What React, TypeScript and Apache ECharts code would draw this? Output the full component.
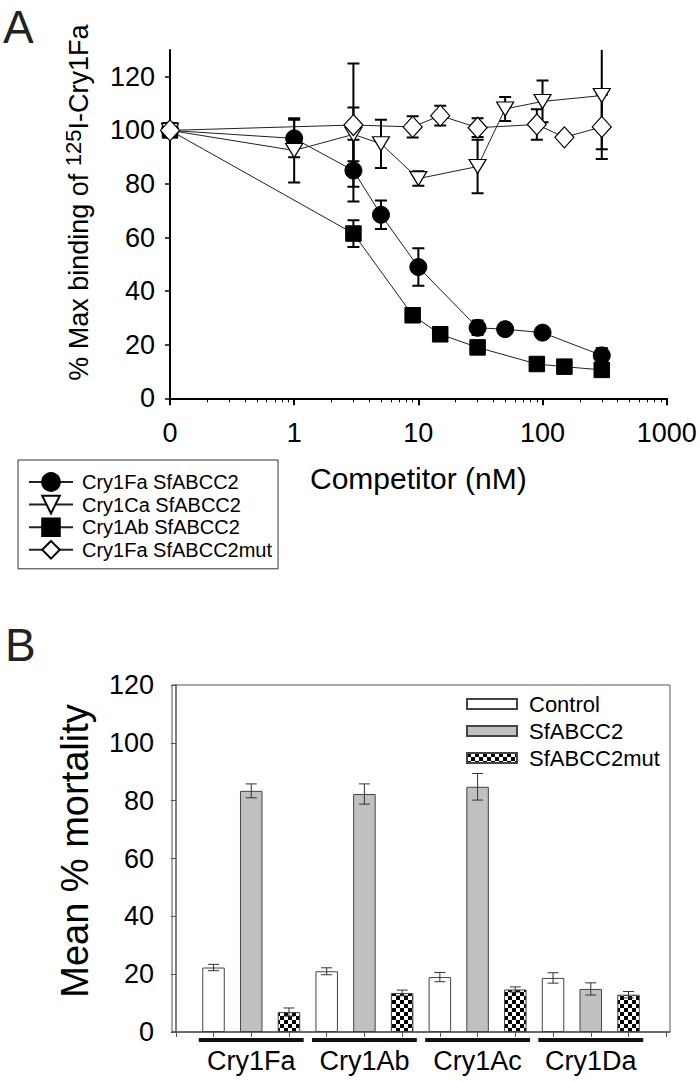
import React, { useEffect, useRef } from "react";
import * as echarts from "echarts";

const FONT = "Liberation Sans, Arial, Helvetica, sans-serif";

// ---- Panel A data (competitor concentration in nM; 0 is drawn at the left end of the log axis)
const concFa = [0, 1, 3, 5, 10, 30, 50, 100, 300];
const fa = [100, 97, 85, 68.5, 49, 26.3, 25.8, 24.5, 16];
const faErr = [0, 7, 11.5, 5.3, 7, 2.7, 0, 0, 2.8];

const concCa = [0, 1, 3, 5, 10, 30, 50, 100, 300];
const ca = [100, 92.5, 98.5, 95, 82, 86.5, 108, 110.8, 113];
const caErr = [0, 12, 10, 9, 2.7, 10, 4.5, 7.8, 20];

const concAb = [0, 3, 9, 15, 30, 90, 150, 300];
const ab = [100, 61.5, 31, 23.9, 19, 12.8, 11.8, 10.6];
const abErr = [0, 5, 0, 0, 0, 0, 0, 0];

const concMut = [0, 3, 9, 15, 30, 90, 150, 300];
const mut = [100, 102, 101.3, 105.5, 101, 102.2, 97.4, 101.3];
const mutErr = [0, 23, 4, 3.7, 3.5, 5.7, 1.5, 12];

const xMajorTicks = [0.1, 1, 10, 100, 1000];
const xMinorTicks = [
  0.2, 0.3, 0.4, 0.5, 0.6, 0.7, 0.8, 0.9,
  2, 3, 4, 5, 6, 7, 8, 9,
  20, 30, 40, 50, 60, 70, 80, 90,
  200, 300, 400, 500, 600, 700, 800, 900,
];
const yTicksA = [0, 20, 40, 60, 80, 100, 120];

// ---- Panel B data
const categories = ["Cry1Fa", "Cry1Ab", "Cry1Ac", "Cry1Da"];
const treatments = ["Control", "SfABCC2", "SfABCC2mut"];
const control = [22.3, 21.0, 19.0, 18.7];
const controlErr = [1.1, 1.2, 1.6, 1.8];
const sfabcc2 = [83.4, 82.3, 84.8, 14.9];
const sfabcc2Err = [2.4, 3.5, 4.6, 2.1];
const sfmut = [6.9, 13.5, 14.7, 12.9];
const sfmutErr = [1.4, 1.0, 0.9, 1.1];

const toPlot = (c: number) => (c === 0 ? 0.1 : c);

export default function App() {
  const ref = useRef<HTMLDivElement>(null);

  useEffect(() => {
    if (!ref.current) return;
    const chart = echarts.init(ref.current, null, { renderer: "svg" });

    const cv = document.createElement("canvas");
    cv.width = 8;
    cv.height = 8;
    const ctx = cv.getContext("2d")!;
    ctx.fillStyle = "#fff";
    ctx.fillRect(0, 0, 8, 8);
    ctx.fillStyle = "#000";
    ctx.fillRect(0, 0, 4, 4);
    ctx.fillRect(4, 4, 4, 4);
    const checker: any = { image: cv, repeat: "repeat", imageWidth: 8, imageHeight: 8 };

    const errA: number[][] = [];
    const pushErr = (conc: number[], v: number[], e: number[]) =>
      conc.forEach((c, i) => {
        if (e[i] > 0) errA.push([toPlot(c), v[i], e[i]]);
      });
    pushErr(concAb, ab, abErr);
    pushErr(concFa, fa, faErr);
    pushErr(concCa, ca, caErr);
    pushErr(concMut, mut, mutErr);

    const groupValues = [control, sfabcc2, sfmut];
    const groupErrs = [controlErr, sfabcc2Err, sfmutErr];
    const errB: number[][] = [];
    categories.forEach((_, gi) => {
      groupValues.forEach((vals, si) => {
        errB.push([gi * 3 + si + 1, vals[gi], groupErrs[si][gi]]);
      });
    });

    const errRender = (w: number, lw: number, color: string) => (params: any, api: any) => {
      const x = api.value(0);
      const y = api.value(1);
      const e = api.value(2);
      const top = api.coord([x, y + e]);
      const bot = api.coord([x, y - e]);
      const style = { stroke: color, lineWidth: lw };
      return {
        type: "group",
        children: [
          { type: "line", shape: { x1: top[0], y1: top[1], x2: bot[0], y2: bot[1] }, style },
          { type: "line", shape: { x1: top[0] - w, y1: top[1], x2: top[0] + w, y2: top[1] }, style },
          { type: "line", shape: { x1: bot[0] - w, y1: bot[1], x2: bot[0] + w, y2: bot[1] }, style },
        ],
      };
    };

    const lineStyleA = { color: "#222", width: 1 };

    const option: any = {
      animation: false,
      backgroundColor: "#fff",
      textStyle: { fontFamily: FONT },
      graphic: [
        { type: "text", left: 3, top: 4, style: { text: "A", fontSize: 46, fontFamily: FONT, fill: "#222" } },
        { type: "text", left: 5, top: 622, style: { text: "B", fontSize: 46, fontFamily: FONT, fill: "#222" } },
      ],
      grid: [
        { left: 170, top: 50, width: 496.7, height: 348.3, containLabel: false },
        {
          left: 172, top: 685, width: 498, height: 347, containLabel: false,
          show: true, borderColor: "#555", borderWidth: 1, backgroundColor: "transparent",
        },
      ],
      legend: [
        {
          data: ["Cry1Fa SfABCC2", "Cry1Ca SfABCC2", "Cry1Ab SfABCC2", "Cry1Fa SfABCC2mut"],
          orient: "vertical",
          left: 18,
          top: 460,
          padding: [12, 6, 9, 10],
          borderColor: "#333",
          borderWidth: 1,
          itemWidth: 44,
          itemHeight: 22,
          itemGap: 2.6,
          selectedMode: false,
          textStyle: { fontSize: 20, lineHeight: 20, fontFamily: FONT, color: "#000", padding: [0, 0, 0, 4] },
        },
        {
          data: treatments,
          orient: "vertical",
          left: 466,
          top: 693,
          padding: 0,
          itemWidth: 50,
          itemHeight: 10,
          itemGap: 5,
          icon: "rect",
          selectedMode: false,
          textStyle: { fontSize: 22, lineHeight: 22, fontFamily: FONT, color: "#000", padding: [0, 0, 0, 7] },
        },
      ],
      xAxis: [
        {
          gridIndex: 0,
          type: "log",
          logBase: 10,
          min: 0.1,
          max: 1000,
          position: "bottom",
          name: "Competitor (nM)",
          nameLocation: "middle",
          nameGap: 65,
          nameTextStyle: { fontSize: 30, fontFamily: FONT, color: "#000" },
          axisLine: { show: true, lineStyle: { color: "#000", width: 2 } },
          axisTick: { show: true, customValues: xMajorTicks, length: 7, lineStyle: { color: "#000", width: 2 } },
          axisLabel: {
            customValues: xMajorTicks,
            formatter: (v: number) => (v < 0.5 ? "0" : String(Math.round(v))),
            fontSize: 27,
            fontFamily: FONT,
            color: "#000",
            margin: 21,
          },
          splitLine: { show: false },
          minorTick: { show: false },
        },
        {
          gridIndex: 0,
          type: "log",
          logBase: 10,
          min: 0.1,
          max: 1000,
          position: "bottom",
          axisLine: { show: false },
          axisTick: { show: true, customValues: xMinorTicks, length: 4, lineStyle: { color: "#000", width: 1 } },
          axisLabel: { show: false },
          splitLine: { show: false },
        },
        {
          gridIndex: 1,
          type: "value",
          min: -0.1,
          max: 13.1,
          position: "bottom",
          axisLine: { show: true, lineStyle: { color: "#555", width: 1.5 } },
          axisTick: {
            show: true,
            customValues: [0, 1, 2, 3, 4, 5, 6, 7, 8, 9, 10, 11, 12, 13],
            length: 5,
            lineStyle: { color: "#555", width: 1 },
          },
          axisLabel: {
            customValues: categories.map((_, i) => i * 3 + 2),
            formatter: (v: number) => categories[Math.round((v - 2) / 3)] ?? "",
            fontSize: 27,
            fontFamily: FONT,
            color: "#000",
            margin: 15,
          },
          splitLine: { show: false },
        },
      ],
      yAxis: [
        {
          gridIndex: 0,
          type: "value",
          min: 0,
          max: 130,
          name: "{a|% Max binding of }{s|125}{a|I-Cry1Fa}",
          nameLocation: "middle",
          nameGap: 74,
          nameTextStyle: {
            fontSize: 27,
            fontFamily: FONT,
            color: "#000",
            padding: [0, 0, 0, 43],
            rich: {
              a: { fontSize: 27, fontFamily: FONT, color: "#000", lineHeight: 34 },
              s: { fontSize: 22, fontFamily: FONT, color: "#000", lineHeight: 22, verticalAlign: "top" },
            },
          },
          axisLine: { show: true, lineStyle: { color: "#000", width: 2 } },
          axisTick: { show: true, customValues: yTicksA, length: 5, lineStyle: { color: "#000", width: 1.5 } },
          axisLabel: { customValues: yTicksA, fontSize: 27, fontFamily: FONT, color: "#000", margin: 15 },
          splitLine: { show: false },
        },
        {
          gridIndex: 1,
          type: "value",
          min: 0,
          max: 120,
          interval: 20,
          name: "Mean % mortality",
          nameLocation: "middle",
          nameGap: 78,
          nameTextStyle: { fontSize: 38, fontFamily: FONT, color: "#000", lineHeight: 38, padding: [0, 0, 0, 15] },
          axisLine: { show: true, lineStyle: { color: "#555", width: 1.5 } },
          axisTick: { show: true, length: 5, lineStyle: { color: "#555", width: 1 } },
          axisLabel: { fontSize: 27, fontFamily: FONT, color: "#000", margin: 18 },
          splitLine: { show: false },
        },
      ],
      series: [
        {
          type: "custom",
          name: "errA",
          xAxisIndex: 0,
          yAxisIndex: 0,
          data: errA,
          encode: { x: 0, y: 1 },
          renderItem: errRender(6, 2, "#000"),
          clip: true,
          z: 1,
        },
        {
          type: "line",
          name: "Cry1Ab SfABCC2",
          xAxisIndex: 0,
          yAxisIndex: 0,
          data: concAb.map((c, i) => [toPlot(c), ab[i]]),
          symbol: "rect",
          symbolSize: 15.5,
          itemStyle: { color: "#000", borderColor: "#000", borderWidth: 1 },
          lineStyle: lineStyleA,
          clip: false,
          z: 2,
        },
        {
          type: "line",
          name: "Cry1Fa SfABCC2",
          xAxisIndex: 0,
          yAxisIndex: 0,
          data: concFa.map((c, i) => [toPlot(c), fa[i]]),
          symbol: "circle",
          symbolSize: 17,
          itemStyle: { color: "#000", borderColor: "#000", borderWidth: 1 },
          lineStyle: lineStyleA,
          clip: false,
          z: 3,
        },
        {
          type: "line",
          name: "Cry1Ca SfABCC2",
          xAxisIndex: 0,
          yAxisIndex: 0,
          data: concCa.map((c, i) => [toPlot(c), ca[i]]),
          symbol: "path://M0,0L20,0L10,16Z",
          symbolSize: [17, 14],
          itemStyle: { color: "#fff", borderColor: "#000", borderWidth: 1.2 },
          lineStyle: lineStyleA,
          clip: false,
          z: 4,
        },
        {
          type: "line",
          name: "Cry1Fa SfABCC2mut",
          xAxisIndex: 0,
          yAxisIndex: 0,
          data: concMut.map((c, i) => [toPlot(c), mut[i]]),
          symbol: "diamond",
          symbolSize: [19, 21],
          itemStyle: { color: "#fff", borderColor: "#000", borderWidth: 1.2 },
          lineStyle: lineStyleA,
          clip: false,
          z: 5,
        },
        {
          type: "bar",
          name: "Control",
          xAxisIndex: 2,
          yAxisIndex: 1,
          data: control.map((v, i) => [i * 3 + 1, v]),
          barWidth: 22.5,
          barGap: "-100%",
          itemStyle: { color: "#fff", borderColor: "#444", borderWidth: 1 },
        },
        {
          type: "bar",
          name: "SfABCC2",
          xAxisIndex: 2,
          yAxisIndex: 1,
          data: sfabcc2.map((v, i) => [i * 3 + 2, v]),
          barWidth: 22.5,
          barGap: "-100%",
          itemStyle: { color: "#c0c0c0", borderColor: "#444", borderWidth: 1 },
        },
        {
          type: "bar",
          name: "SfABCC2mut",
          xAxisIndex: 2,
          yAxisIndex: 1,
          data: sfmut.map((v, i) => [i * 3 + 3, v]),
          barWidth: 22.5,
          barGap: "-100%",
          itemStyle: { color: checker, borderColor: "#444", borderWidth: 1 },
        },
        {
          type: "custom",
          name: "errB",
          xAxisIndex: 2,
          yAxisIndex: 1,
          data: errB,
          encode: { x: 0, y: 1 },
          renderItem: errRender(5.5, 1, "#333"),
          z: 5,
        },
        {
          type: "custom",
          name: "groupLines",
          xAxisIndex: 2,
          yAxisIndex: 1,
          data: categories.map((_, i) => [i * 3 + 2, 0]),
          encode: { x: 0, y: 1 },
          clip: false,
          renderItem: (params: any, api: any) => {
            const c = api.coord([api.value(0), 0]);
            const hw = api.size([1.39, 0])[0];
            return {
              type: "line",
              shape: { x1: c[0] - hw, y1: c[1] + 8, x2: c[0] + hw, y2: c[1] + 8 },
              style: { stroke: "#111", lineWidth: 4 },
            };
          },
          z: 5,
        },
      ],
    };

    chart.setOption(option);
    return () => chart.dispose();
  }, []);

  return (
    <div
      ref={ref}
      style={{ position: "fixed", left: 0, top: 0, width: 700, height: 1081, background: "#fff" }}
    />
  );
}
